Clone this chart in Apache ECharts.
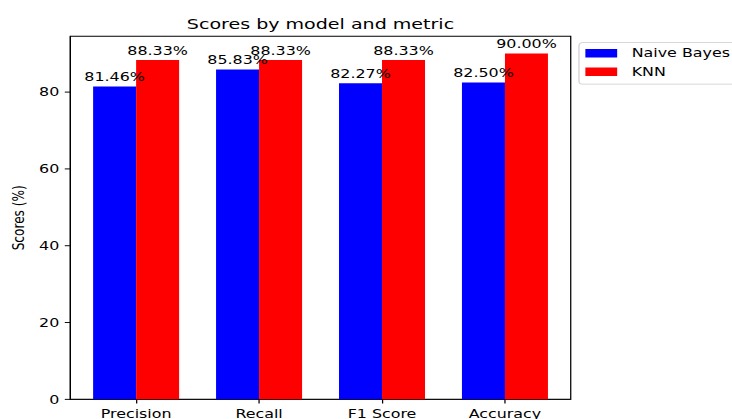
<!DOCTYPE html>
<html>
<head>
<meta charset="utf-8">
<script src="https://cdn.jsdelivr.net/npm/echarts@6/dist/echarts.min.js"></script>
<style>
  html, body { margin: 0; padding: 0; background: #fff; overflow: hidden; }
  #wrap { width: 732px; height: 419px; overflow: hidden; position: relative; }
  #chart { width: 640px; height: 480px; transform-origin: 0 0; transform: scale(1.14375, 0.872917); }
</style>
</head>
<body>
<div id="wrap"><div id="chart"></div></div>
<script>
const categories = ['Precision', 'Recall', 'F1 Score', 'Accuracy'];
const naiveBayes = [81.46, 85.83, 82.27, 82.50];
const knn = [88.33, 88.33, 88.33, 90.00];
const yTicks = [0, 20, 40, 60, 80];
const xTicks = [0, 1, 2, 3];

const FONT = 'DejaVu Sans';
const fs = 13.89;
const chart = echarts.init(document.getElementById('chart'), null, { renderer: 'svg' });

function toPairs(arr) { return arr.map((v, i) => [i, v]); }
const labelCfg = {
  show: true, position: 'top', distance: 4,
  fontFamily: FONT, fontSize: fs, color: '#000',
  formatter: p => p.value[1].toFixed(2) + '%'
};

chart.setOption({
  animation: false,
  title: {
    text: 'Scores by model and metric',
    left: 280.2, top: 19, padding: 0, textAlign: 'center',
    textStyle: { fontFamily: FONT, fontSize: 16.67, fontWeight: 'normal', color: '#000' }
  },
  legend: {
    orient: 'vertical', left: 506.2, top: 48.9,
    padding: [5, 6, 7, 5.6],
    itemWidth: 27.8, itemHeight: 9.7, itemGap: 7.4,
    backgroundColor: 'rgba(255,255,255,0.8)', borderColor: '#cccccc', borderWidth: 1, borderRadius: 3,
    icon: 'rect',
    textStyle: { fontFamily: FONT, fontSize: fs, color: '#000', lineHeight: 14, padding: [0, 0, 0, 7.7] },
    data: ['Naive Bayes', 'KNN']
  },
  grid: {
    left: 61.5, top: 41.6, width: 437.5, height: 415.8,
    show: true, borderColor: '#000', borderWidth: 1.1, backgroundColor: 'transparent',
    containLabel: false, outerBoundsMode: 'none'
  },
  xAxis: {
    type: 'value', min: -0.535, max: 3.535,
    axisLine: { show: true, onZero: false, lineStyle: { color: '#000', width: 1.1 } },
    axisTick: { show: true, length: 4.86, lineStyle: { color: '#000', width: 1.1 }, customValues: xTicks },
    axisLabel: { margin: 9.7, fontFamily: FONT, fontSize: fs, color: '#000', customValues: xTicks,
      formatter: v => categories[Math.round(v)] },
    splitLine: { show: false }
  },
  yAxis: {
    type: 'value', min: 0, max: 94.5,
    name: 'Scores (%)', nameLocation: 'middle', nameGap: 34, nameRotate: 90,
    nameTextStyle: { fontFamily: FONT, fontSize: fs, color: '#000' },
    axisLine: { show: true, onZero: false, lineStyle: { color: '#000', width: 1.1 } },
    axisTick: { show: true, length: 4.86, lineStyle: { color: '#000', width: 1.1 }, customValues: yTicks },
    axisLabel: { margin: 9.7, fontFamily: FONT, fontSize: fs, color: '#000', customValues: yTicks },
    splitLine: { show: false }
  },
  series: [
    { name: 'Naive Bayes', type: 'bar', data: toPairs(naiveBayes), barWidth: 37.6, barGap: '0%',
      itemStyle: { color: '#0000ff' }, label: labelCfg },
    { name: 'KNN', type: 'bar', data: toPairs(knn), barWidth: 37.6, barGap: '0%',
      itemStyle: { color: '#ff0000' }, label: labelCfg }
  ]
});
</script>
</body>
</html>
